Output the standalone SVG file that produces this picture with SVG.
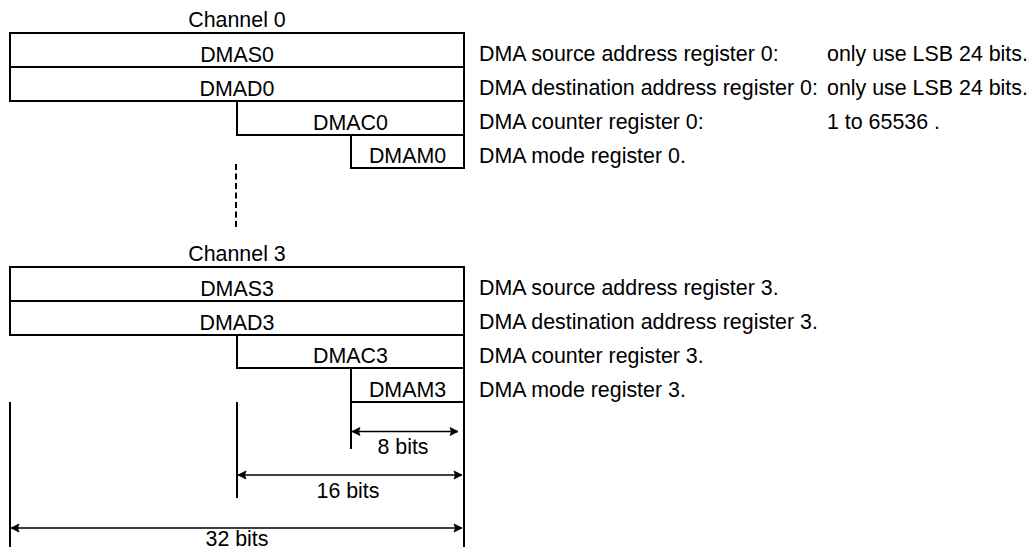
<svg xmlns="http://www.w3.org/2000/svg" width="1032" height="551" viewBox="0 0 1032 551">
<style>
text{font-family:"Liberation Sans",Arial,sans-serif;font-size:21.4px;fill:#000}
.c{text-anchor:middle}
.box{fill:#fff;stroke:#000;stroke-width:2}
.dim{stroke:#000;stroke-width:2;fill:none}
.arr{stroke:#000;stroke-width:1.4;fill:none;marker-start:url(#ah);marker-end:url(#ah)}
</style>
<defs>
<marker id="ah" markerUnits="userSpaceOnUse" markerWidth="12" markerHeight="12" viewBox="-10 -6 12 12" refX="0" refY="0" orient="auto-start-reverse">
<path d="M-8,-4 L0,0 L-8,4 L-6.5,0 Z" fill="#000" stroke="#000" stroke-width="0.8" stroke-linejoin="miter"/>
</marker>
</defs>
<rect width="1032" height="551" fill="#fff"/>
<text class="c" x="237" y="27">Channel 0</text>
<g id="DMAS0"><rect class="box" x="10" y="33" width="454" height="34"/><text class="c" x="237" y="61.5">DMAS0</text><text x="479" y="61">DMA source address register 0:</text><text x="827" y="61">only use LSB 24 bits.</text></g>
<g id="DMAD0"><rect class="box" x="10" y="67" width="454" height="34"/><text class="c" x="237" y="95.5">DMAD0</text><text x="479" y="95">DMA destination address register 0:</text><text x="827" y="95">only use LSB 24 bits.</text></g>
<g id="DMAC0"><rect class="box" x="237" y="101" width="227" height="34"/><text class="c" x="350.5" y="129.5">DMAC0</text><text x="479" y="129">DMA counter register 0:</text><text x="827" y="129">1 to 65536 .</text></g>
<g id="DMAM0"><rect class="box" x="351" y="135" width="113" height="33"/><text class="c" x="407.5" y="163">DMAM0</text><text x="479" y="163">DMA mode register 0.</text></g>
<text class="c" x="237" y="261">Channel 3</text>
<g id="DMAS3"><rect class="box" x="10" y="267" width="454" height="34"/><text class="c" x="237" y="295.5">DMAS3</text><text x="479" y="295">DMA source address register 3.</text></g>
<g id="DMAD3"><rect class="box" x="10" y="301" width="454" height="34"/><text class="c" x="237" y="329.5">DMAD3</text><text x="479" y="329">DMA destination address register 3.</text></g>
<g id="DMAC3"><rect class="box" x="237" y="335" width="227" height="33"/><text class="c" x="350.5" y="363">DMAC3</text><text x="479" y="363">DMA counter register 3.</text></g>
<g id="DMAM3"><rect class="box" x="351" y="368" width="113" height="34"/><text class="c" x="407.5" y="396.5">DMAM3</text><text x="479" y="396.5">DMA mode register 3.</text></g>
<g id="connectors">
<line x1="236" y1="164" x2="236" y2="228" stroke="#000" stroke-width="2" stroke-dasharray="6 3.5"/>
<line class="dim" x1="10" y1="402" x2="10" y2="547"/>
<line class="dim" x1="237" y1="402" x2="237" y2="498"/>
<line class="dim" x1="351" y1="402" x2="351" y2="449"/>
<line class="dim" x1="464" y1="402" x2="464" y2="547"/>
<line class="arr" x1="352" y1="431.5" x2="458" y2="431.5"/>
<line class="arr" x1="238" y1="475" x2="462" y2="475"/>
<line class="arr" x1="11" y1="528" x2="462" y2="528"/>
</g>
<text class="c" x="403" y="454">8 bits</text>
<text class="c" x="348" y="498">16 bits</text>
<text class="c" x="237" y="546">32 bits</text>
</svg>
